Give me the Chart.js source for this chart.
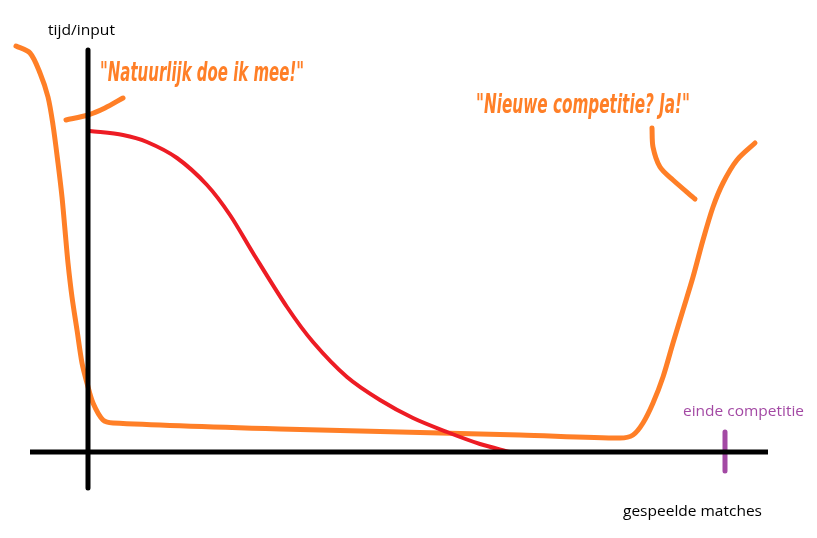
<!DOCTYPE html>
<html>
<head>
<meta charset="utf-8">
<script src="https://cdn.jsdelivr.net/npm/chart.js@4"></script>
<style>
  body { margin: 0; background: #fff; }
  #wrap { width: 817px; height: 538px; }
</style>
</head>
<body>
<div id="wrap"><canvas id="myChart" width="817" height="538"></canvas></div>
<script>
// units: x = matches played, y = time/input (origin where the axes cross)
const inputX = [-72, -58, -48, -40, -35, -30, -26, -23, -20, -16, -11, -6, -1, 5, 15, 25, 192, 432, 532, 545, 555, 565, 575, 585, 595, 605, 615, 625, 635, 649, 667];
const inputY = [406, 399, 379, 355, 327, 289, 255, 222, 189, 155, 122, 89, 69, 49, 32, 29, 23, 17, 14, 17, 29, 49, 75, 109, 142, 175, 212, 245, 269, 292, 309];

const interestX = [2, 35, 59, 89, 119, 142, 165, 199, 225, 259, 292, 325, 359, 392, 422];
const interestY = [321, 317, 310, 294, 267, 237, 199, 145, 110, 75, 52, 34, 20, 8, 0];

const startX = [-22, 0, 17, 35];
const startY = [332, 337, 344, 354];

const againX = [564, 565, 572, 585, 607];
const againY = [324, 305, 285, 272, 253];

const axisXX = [-58, 680];
const axisXY = [0, 0];
const axisYX = [0, 0];
const axisYY = [402, -36];

const endMatch = 637;
const endTickY = [20, -19];

const labels = {
  yTitle: 'tijd/input',
  xTitle: 'gespeelde matches',
  end: 'einde competitie',
  quote1: '"Natuurlijk doe ik mee!"',
  quote2: '"Nieuwe competitie? Ja!"'
};

const ORANGE = '#ff7f27';
const RED = '#ed1c24';
const PURPLE = '#a349a4';

function pts(xs, ys) {
  return xs.map((x, i) => ({ x: x, y: ys[i] }));
}

function line(xs, ys, color, width, smooth) {
  return {
    data: pts(xs, ys),
    showLine: true,
    borderColor: color,
    borderWidth: width,
    pointRadius: 0,
    tension: smooth ? 0.3 : 0,
    borderCapStyle: smooth ? 'round' : 'butt',
    borderJoinStyle: 'round',
    clip: false
  };
}

function fitText(ctx, text, x, y, width, font, color) {
  ctx.save();
  ctx.font = font;
  ctx.fillStyle = color;
  ctx.textBaseline = 'middle';
  const w = ctx.measureText(text).width;
  ctx.translate(x, y);
  ctx.scale(width / w, 1);
  ctx.fillText(text, 0, 0);
  ctx.restore();
}

const textPlugin = {
  id: 'texts',
  afterDatasetsDraw(chart) {
    const ctx = chart.ctx;
    const plain = '14px "Open Sans"';
    fitText(ctx, labels.yTitle, 48, 31, 67, plain, '#000');
    fitText(ctx, labels.xTitle, 623, 512, 139, plain, '#000');
    fitText(ctx, labels.end, 683, 412, 121, plain, PURPLE);
    const quote = 'italic bold 26px "DejaVu Sans Condensed"';
    fitText(ctx, labels.quote1, 100, 74, 204, quote, ORANGE);
    fitText(ctx, labels.quote2, 476, 106, 214, quote, ORANGE);
  }
};

const ctx = document.getElementById('myChart').getContext('2d');

const myChart = new Chart(ctx, {
  type: 'scatter',
  data: {
    datasets: [
      line(axisXX, axisXY, '#000', 5, false),
      line(axisYX, axisYY, '#000', 5, false),
      line([endMatch, endMatch], endTickY, PURPLE, 5, false),
      line(interestX, interestY, RED, 4, true),
      line(inputX, inputY, ORANGE, 5, true),
      line(startX, startY, ORANGE, 5, true),
      line(againX, againY, ORANGE, 5, true)
    ]
  },
  options: {
    responsive: false,
    animation: false,
    layout: { padding: 0 },
    plugins: {
      legend: { display: false },
      tooltip: { enabled: false }
    },
    scales: {
      x: { type: 'linear', min: -88, max: 729, display: false },
      y: { type: 'linear', min: -86, max: 452, display: false }
    }
  },
  plugins: [textPlugin]
});
</script>
</body>
</html>
